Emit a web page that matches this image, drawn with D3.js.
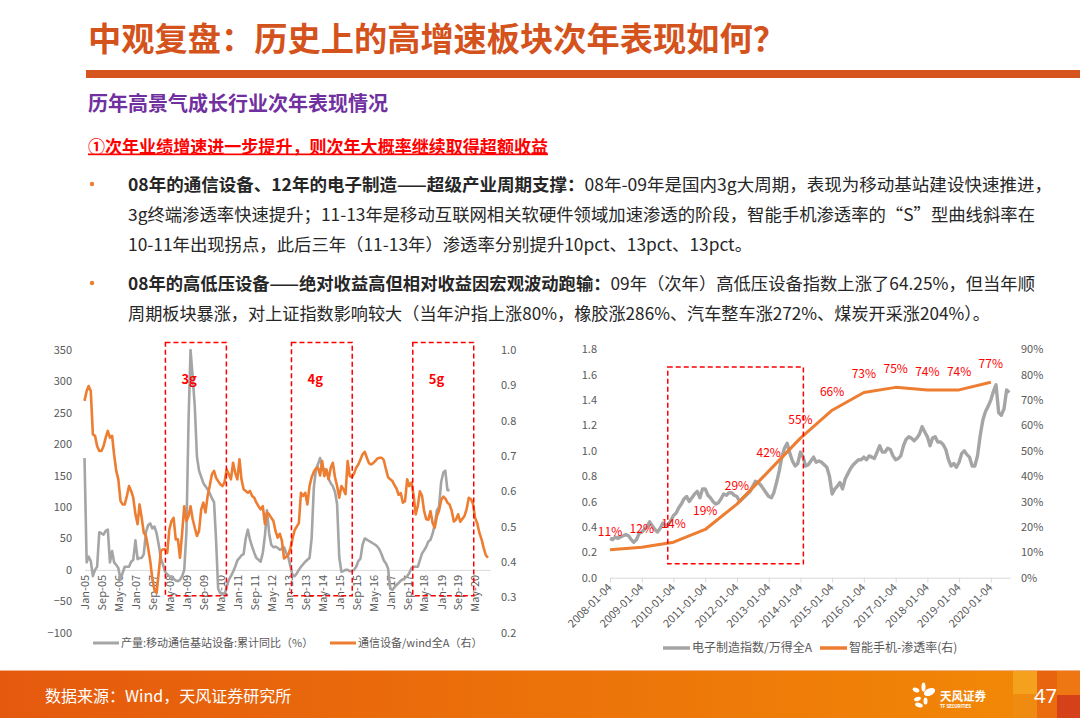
<!DOCTYPE html>
<html><head><meta charset="utf-8">
<script src="https://cdn.jsdelivr.net/npm/d3@7"></script>
<style>
html,body{margin:0;padding:0;background:#fff;}
svg{display:block;font-family:"Noto Sans CJK SC","Noto Sans",sans-serif;}
</style></head><body>
<svg id="s" width="1080" height="718"></svg>
<script>
// ---------------- DATA ----------------
const titleText = "中观复盘：历史上的高增速板块次年表现如何？";
const subTitle = "历年高景气成长行业次年表现情况";
const redPoint = "①次年业绩增速进一步提升，则次年大概率继续取得超额收益";
const bullet1Bold = "08年的通信设备、12年的电子制造——超级产业周期支撑：";
const bullet1Rest = "08年-09年是国内3g大周期，表现为移动基站建设快速推进，";
const bullet1Line2 = "3g终端渗透率快速提升；11-13年是移动互联网相关软硬件领域加速渗透的阶段，智能手机渗透率的“S”型曲线斜率在";
const bullet1Line3 = "10-11年出现拐点，此后三年（11-13年）渗透率分别提升10pct、13pct、13pct。";
const bullet2Bold = "08年的高低压设备——绝对收益高但相对收益因宏观波动跑输：";
const bullet2Rest = "09年（次年）高低压设备指数上涨了64.25%，但当年顺";
const bullet2Line2 = "周期板块暴涨，对上证指数影响较大（当年沪指上涨80%，橡胶涨286%、汽车整车涨272%、煤炭开采涨204%）。";
const sourceText = "数据来源：Wind，天风证券研究所";
const pageNo = "47";

// Left chart: monthly from Jan-05
const leftStart = "2005-01";
const leftTickLabels = ["Jan-05","Sep-05","May-06","Jan-07","Sep-07","May-08","Jan-09","Sep-09","May-10","Jan-11","Sep-11","May-12","Jan-13","Sep-13","May-14","Jan-15","Sep-15","May-16","Jan-17","Sep-17","May-18","Jan-19","Sep-19","May-20"];
const leftYTicks = [350,300,250,200,150,100,50,0,-50,-100];
const leftY2Ticks = [1.0,0.9,0.8,0.7,0.6,0.5,0.4,0.3,0.2];
const seriesBaseName = "产量:移动通信基站设备:累计同比（%）";
const seriesCommName = "通信设备/wind全A（右）";
const baseStationYoY = [178,12,21,14,-10,0,5,60,58,56,62,64,12,30,12,8,3,-15,-5,5,5,5,13,16,47,17,19,19,25,60,71,74,66,69,58,40,18,8,-3,-7,-10,-12,-14,-17,-18,-16,-10,0,60,240,350,307,260,180,158,148,138,133,128,122,114,108,50,-30,-37,-37,-40,-27,-16,-10,-3,5,15,19,23,25,50,64,48,37,27,19,16,13,27,55,95,58,40,36,37,35,32,34,36,27,20,5,-8,-10,-6,0,5,9,13,16,19,50,130,160,168,178,163,160,159,145,138,133,124,105,20,-3,-2,0,0,-2,-2,0,5,14,18,40,50,48,46,44,42,40,37,32,24,15,10,2,-30,-32,-28,-24,-21,-17,-15,-13,-10,-5,3,5,5,5,15,26,31,37,45,48,58,72,95,100,140,155,158,127,127];
const commVsWindA = [0.856,0.884,0.898,0.884,0.761,0.757,0.728,0.714,0.714,0.728,0.752,0.771,0.752,0.757,0.705,0.658,0.634,0.573,0.563,0.563,0.587,0.615,0.601,0.582,0.535,0.507,0.563,0.525,0.483,0.474,0.441,0.403,0.351,0.323,0.313,0.370,0.431,0.436,0.436,0.426,0.492,0.516,0.525,0.464,0.464,0.412,0.483,0.558,0.516,0.530,0.558,0.521,0.497,0.474,0.488,0.549,0.568,0.540,0.587,0.615,0.648,0.658,0.639,0.629,0.620,0.615,0.625,0.662,0.648,0.634,0.681,0.653,0.634,0.691,0.634,0.606,0.601,0.596,0.601,0.587,0.582,0.568,0.558,0.549,0.558,0.507,0.540,0.535,0.525,0.516,0.488,0.469,0.48,0.46,0.41,0.415,0.42,0.44,0.465,0.49,0.50,0.51,0.596,0.587,0.596,0.563,0.615,0.64,0.655,0.665,0.667,0.645,0.686,0.643,0.662,0.634,0.667,0.681,0.64,0.615,0.582,0.615,0.606,0.592,0.686,0.643,0.640,0.650,0.667,0.676,0.69,0.705,0.712,0.695,0.680,0.676,0.680,0.686,0.693,0.695,0.695,0.688,0.662,0.64,0.634,0.629,0.618,0.608,0.590,0.595,0.568,0.572,0.634,0.615,0.625,0.590,0.535,0.56,0.600,0.588,0.545,0.521,0.52,0.544,0.51,0.497,0.53,0.545,0.575,0.585,0.58,0.568,0.563,0.545,0.515,0.52,0.535,0.514,0.522,0.530,0.55,0.582,0.578,0.565,0.525,0.51,0.483,0.465,0.44,0.42,0.412];
const cycleLabels = ["3g","4g","5g"];
const cycleStart = ["2008-03-06","2013-02-15","2017-11-20"];
const cycleEnd = ["2010-07-28","2015-07-06","2020-04-12"];

// Right chart
const rightTickLabels = ["2008-01-04","2009-01-04","2010-01-04","2011-01-04","2012-01-04","2013-01-04","2014-01-04","2015-01-04","2016-01-04","2017-01-04","2018-01-04","2019-01-04","2020-01-04"];
const rightYTicks = [1.8,1.6,1.4,1.2,1.0,0.8,0.6,0.4,0.2,0.0];
const rightY2Ticks = [0.9,0.8,0.7,0.6,0.5,0.4,0.3,0.2,0.1,0];
const seriesElecName = "电子制造指数/万得全A";
const seriesSmartName = "智能手机-渗透率(右)";
const elecStart = "2008-01-04";
const elecVsWindA = [0.31,0.30,0.32,0.31,0.32,0.33,0.34,0.33,0.30,0.28,0.30,0.35,0.36,0.38,0.40,0.44,0.41,0.38,0.36,0.39,0.43,0.41,0.42,0.45,0.49,0.51,0.55,0.58,0.62,0.64,0.60,0.63,0.66,0.68,0.63,0.70,0.70,0.65,0.63,0.60,0.58,0.59,0.62,0.66,0.65,0.67,0.67,0.65,0.64,0.60,0.62,0.64,0.66,0.68,0.72,0.76,0.75,0.73,0.70,0.67,0.64,0.63,0.67,0.75,0.84,0.95,1.02,1.06,0.98,0.92,0.88,0.90,0.99,0.95,0.88,0.89,0.92,0.95,0.91,0.92,0.91,0.89,0.87,0.80,0.66,0.70,0.72,0.75,0.70,0.78,0.82,0.86,0.89,0.91,0.93,0.93,0.95,0.93,0.96,0.95,0.94,0.99,1.04,0.99,0.99,1.02,1.01,0.96,0.93,0.94,0.96,1.04,1.09,1.11,1.10,1.08,1.10,1.13,1.19,1.15,1.11,1.04,1.10,1.11,1.07,1.07,1.05,1.01,0.93,0.88,0.90,0.87,0.91,0.98,1.00,0.97,0.95,0.88,0.88,0.96,1.12,1.24,1.31,1.35,1.40,1.47,1.52,1.30,1.28,1.33,1.48,1.46];
const smartDates = ["2008-01-04","2009-01-04","2010-01-04","2011-01-04","2012-01-04","2013-01-04","2014-01-04","2015-01-04","2016-01-04","2017-01-04","2018-01-04","2019-01-04","2020-01-04"];
const smartPenetration = [0.11,0.12,0.14,0.19,0.29,0.42,0.55,0.66,0.73,0.75,0.74,0.74,0.77];
const boxRightStart = "2009-10-30", boxRightEnd = "2014-02-07";
const boxRightRange = [0.11, 1.66];

// ---------------- COLORS ----------------
const C_ORANGE = "#ED7D31", C_GRAY = "#A5A5A5", C_AXIS = "#595959", C_RED = "#FF0000";

const svg = d3.select("#s");
const defs = svg.append("defs");

// ---------------- HEADER ----------------
svg.append("text").attr("x",88).attr("y",51).attr("font-size",33).attr("font-weight",700)
  .attr("fill","#D4521C").attr("textLength",698).attr("lengthAdjust","spacingAndGlyphs").text(titleText);
svg.append("rect").attr("x",86).attr("y",70).attr("width",994).attr("height",8).attr("fill","#D6541E");
svg.append("text").attr("x",88).attr("y",111).attr("font-size",20).attr("font-weight",700)
  .attr("fill","#7030A0").text(subTitle);
svg.append("text").attr("x",88).attr("y",152.5).attr("font-size",17).attr("font-weight",700)
  .attr("fill",C_RED).attr("text-decoration","underline").attr("textLength",460).attr("lengthAdjust","spacingAndGlyphs").text(redPoint);

const bodyLines = [
  {y:190.5, bold:bullet1Bold, rest:bullet1Rest, w:924, dot:true},
  {y:220.5, bold:"", rest:bullet1Line2, w:907},
  {y:250.5, bold:"", rest:bullet1Line3, w:624},
  {y:289.5, bold:bullet2Bold, rest:bullet2Rest, w:907, dot:true},
  {y:319.5, bold:"", rest:bullet2Line2, w:862}
];
bodyLines.forEach(l=>{
  const t = svg.append("text").attr("x",128).attr("y",l.y).attr("font-size",17).attr("fill","#262626")
    .attr("textLength",l.w).attr("lengthAdjust","spacingAndGlyphs");
  if(l.bold) t.append("tspan").attr("font-weight",700).text(l.bold);
  t.append("tspan").text(l.rest);
  if(l.dot) svg.append("circle").attr("cx",92).attr("cy",l.y-6.5).attr("r",2.2).attr("fill",C_ORANGE);
});

// ---------------- LEFT CHART ----------------
const pM = d3.timeParse("%Y-%m"), pD = d3.timeParse("%Y-%m-%d"), pT = d3.timeParse("%b-%y");
const l0 = pM(leftStart);
const xL = d3.scaleTime().domain([l0, d3.timeMonth.offset(l0,191)]).range([84.5,490]);
const yL = d3.scaleLinear().domain([-100,350]).range([632.7,350]);
const yL2 = d3.scaleLinear().domain([0.2,1.0]).range([632.7,350]);
const gL = svg.append("g").attr("font-family",'"Noto Sans CJK SC","Noto Sans",sans-serif');

function styleAxis(g){
  g.selectAll("text").attr("fill",C_AXIS).attr("font-size",11).attr("font-family",'"Noto Sans CJK SC","Noto Sans",sans-serif');
}
const axL = gL.append("g").attr("transform","translate(80,0)")
  .call(d3.axisLeft(yL).tickValues(leftYTicks).tickSize(0).tickPadding(8).tickFormat(d3.format("d")));
axL.select(".domain").remove(); styleAxis(axL);
const axL2 = gL.append("g").attr("transform","translate(493,0)")
  .call(d3.axisRight(yL2).tickValues(leftY2Ticks).tickSize(0).tickPadding(8).tickFormat(d3.format(".1f")));
axL2.select(".domain").remove(); styleAxis(axL2);
const axLx = gL.append("g").attr("transform",`translate(0,${yL(0)})`)
  .call(d3.axisBottom(xL).tickValues(leftTickLabels.map(pT)).tickSize(0).tickSizeOuter(0).tickFormat(d3.timeFormat("%b-%y")));
axLx.select(".domain").attr("stroke","#D9D9D9").attr("stroke-width",1);
styleAxis(axLx);
axLx.selectAll("text").attr("transform","rotate(-90)").attr("text-anchor","end").attr("x",-5).attr("y",0).attr("dy","0.35em");

const lineBase = d3.line().x((d,i)=>xL(d3.timeMonth.offset(l0,i))).y(d=>yL(d));
const lineComm = d3.line().x((d,i)=>xL(d3.timeMonth.offset(l0,i))).y(d=>yL2(d));
gL.append("path").datum(baseStationYoY).attr("d",lineBase).attr("fill","none").attr("stroke",C_GRAY).attr("stroke-width",2.6).attr("stroke-linejoin","round");
gL.append("path").datum(commVsWindA).attr("d",lineComm).attr("fill","none").attr("stroke",C_ORANGE).attr("stroke-width",2.6).attr("stroke-linejoin","round");

cycleLabels.forEach((lab,i)=>{
  const x0 = xL(pD(cycleStart[i])), x1 = xL(pD(cycleEnd[i]));
  const y0 = yL(362), y1 = yL(-41);
  gL.append("rect").attr("x",x0).attr("y",y0).attr("width",x1-x0).attr("height",y1-y0)
    .attr("fill","none").attr("stroke",C_RED).attr("stroke-width",1.5).attr("stroke-dasharray","5,3");
  gL.append("text").attr("x",x0+16).attr("y",y0+42).attr("font-size",13).attr("font-weight",700)
    .attr("fill",C_RED).text(lab);
});
// legend
const lgL = [{name:seriesBaseName,c:C_GRAY,x:93},{name:seriesCommName,c:C_ORANGE,x:330}];
lgL.forEach(d=>{
  gL.append("line").attr("x1",d.x).attr("x2",d.x+26).attr("y1",643).attr("y2",643).attr("stroke",d.c).attr("stroke-width",3);
  gL.append("text").attr("x",d.x+28).attr("y",647).attr("font-size",11).attr("fill",C_AXIS).text(d.name);
});

// ---------------- RIGHT CHART ----------------
const xR = d3.scaleTime().domain([pD("2008-01-04"), pD("2020-08-12")]).range([610,1010]);
const yR = d3.scaleLinear().domain([0,1.8]).range([577.7,349.3]);
const yR2 = d3.scaleLinear().domain([0,0.9]).range([577.7,349.3]);
const gR = svg.append("g");
const axR = gR.append("g").attr("transform","translate(605,0)")
  .call(d3.axisLeft(yR).tickValues(rightYTicks).tickSize(0).tickPadding(8).tickFormat(d3.format(".1f")));
axR.select(".domain").remove(); styleAxis(axR);
const axR2 = gR.append("g").attr("transform","translate(1013,0)")
  .call(d3.axisRight(yR2).tickValues(rightY2Ticks).tickSize(0).tickPadding(8).tickFormat(d3.format(".0%")));
axR2.select(".domain").remove(); styleAxis(axR2);
const axRx = gR.append("g").attr("transform",`translate(0,${yR(0)})`)
  .call(d3.axisBottom(xR).tickValues(rightTickLabels.map(pD)).tickSize(5).tickSizeOuter(0).tickFormat(d3.timeFormat("%Y-%m-%d")));
axRx.select(".domain").attr("stroke","#D9D9D9");
axRx.selectAll(".tick line").attr("stroke","#D9D9D9");
styleAxis(axRx);
axRx.selectAll("text").attr("transform","rotate(-45)").attr("text-anchor","end").attr("x",-6).attr("y",5).attr("dy","0.35em");

const e0 = pD(elecStart);
gR.append("path").datum(elecVsWindA)
  .attr("d",d3.line().x((d,i)=>xR(d3.timeMonth.offset(e0,i))).y(d=>yR(d)))
  .attr("fill","none").attr("stroke",C_GRAY).attr("stroke-width",3.4).attr("stroke-linejoin","round");
const smart = smartDates.map((d,i)=>({date:pD(d), v:smartPenetration[i]}));
gR.append("path").datum(smart)
  .attr("d",d3.line().x(d=>xR(d.date)).y(d=>yR2(d.v)))
  .attr("fill","none").attr("stroke",C_ORANGE).attr("stroke-width",3).attr("stroke-linejoin","round");
gR.selectAll("text.pl").data(smart).join("text").attr("class","pl")
  .attr("x",d=>xR(d.date)).attr("y",d=>yR2(d.v)-14).attr("text-anchor","middle")
  .attr("font-size",12).attr("fill",C_RED).text(d=>d3.format(".0%")(d.v));
{
  const x0 = xR(pD(boxRightStart)), x1 = xR(pD(boxRightEnd));
  const y0 = yR(boxRightRange[1]), y1 = yR(boxRightRange[0]);
  gR.append("rect").attr("x",x0).attr("y",y0).attr("width",x1-x0).attr("height",y1-y0)
    .attr("fill","none").attr("stroke",C_RED).attr("stroke-width",1.5).attr("stroke-dasharray","5,3");
}
const lgR = [{name:seriesElecName,c:C_GRAY,x:663},{name:seriesSmartName,c:C_ORANGE,x:820}];
lgR.forEach(d=>{
  gR.append("line").attr("x1",d.x).attr("x2",d.x+27).attr("y1",648).attr("y2",648).attr("stroke",d.c).attr("stroke-width",3.5);
  gR.append("text").attr("x",d.x+29).attr("y",652).attr("font-size",12).attr("fill",C_AXIS).text(d.name);
});

// ---------------- FOOTER ----------------
const grad = defs.append("linearGradient").attr("id","fg").attr("x1","0").attr("x2","1").attr("y1","0").attr("y2","0");
grad.append("stop").attr("offset","0").attr("stop-color","#E5590E");
grad.append("stop").attr("offset","1").attr("stop-color","#F28A06");
svg.append("rect").attr("x",0).attr("y",670).attr("width",1080).attr("height",48).attr("fill","url(#fg)");
svg.append("rect").attr("x",0).attr("y",670).attr("width",1080).attr("height",1).attr("fill","#F3B38A");
const tiles = [
  [1013,671,24,23,"#F4A11E"],[1037,671,20,18,"#E9640F"],[1057,671,23,24,"#EE7714"],
  [1013,694,24,24,"#F08B12"],[1037,689,20,29,"#EA6C0E"],[1057,695,23,23,"#D5421A"]
];
tiles.forEach(t=>svg.append("rect").attr("x",t[0]).attr("y",t[1]).attr("width",t[2]).attr("height",t[3]).attr("fill",t[4]));
svg.append("text").attr("x",45).attr("y",702).attr("font-size",16).attr("fill","#fff").text(sourceText);
// logo
const lg = svg.append("g").attr("fill","#fff");
lg.append("ellipse").attr("cx",923.5).attr("cy",687).attr("rx",2).attr("ry",4.5);
lg.append("ellipse").attr("cx",916).attr("cy",690).attr("rx",3.5).attr("ry",2.2).attr("transform","rotate(25,916,690)");
lg.append("ellipse").attr("cx",929.5).attr("cy",692).attr("rx",6).attr("ry",3.5).attr("transform","rotate(-25,929.5,692)");
lg.append("ellipse").attr("cx",917.5).attr("cy",699).attr("rx",3.5).attr("ry",2).attr("transform","rotate(-20,917.5,699)");
lg.append("ellipse").attr("cx",919).attr("cy",705).attr("rx",4).attr("ry",2.2).attr("transform","rotate(20,919,705)");
lg.append("ellipse").attr("cx",925.5).attr("cy",701).attr("rx",2).attr("ry",3.5);
svg.append("text").attr("x",940).attr("y",701).attr("font-size",12).attr("font-weight",700).attr("fill","#fff")
  .attr("textLength",46).attr("lengthAdjust","spacingAndGlyphs").text("天风证券");
svg.append("text").attr("x",940).attr("y",708).attr("font-size",4.5).attr("font-weight",700).attr("fill","#fff")
  .attr("font-family","Roboto, sans-serif").text("TF SECURITIES");
svg.append("text").attr("x",1034).attr("y",703).attr("font-size",20).attr("fill","#fff")
  .attr("font-family","'Noto Sans', sans-serif").text(pageNo);
</script>
</body></html>
